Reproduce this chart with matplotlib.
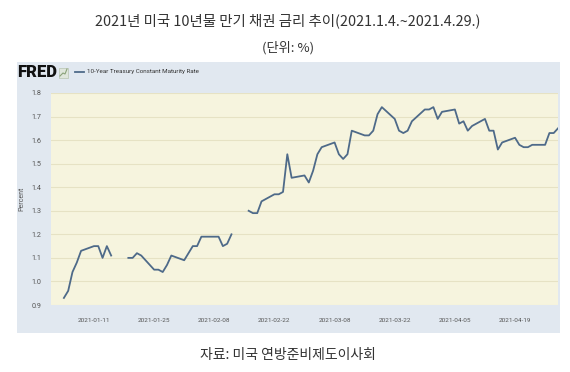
import numpy as np
import pandas as pd
import matplotlib
matplotlib.use('Agg')
import matplotlib.pyplot as plt
from matplotlib.patches import Rectangle
from matplotlib.lines import Line2D

# data (NaN = market holiday, line breaks there)
dates = ['2021-01-04', '2021-01-05', '2021-01-06', '2021-01-07', '2021-01-08',
         '2021-01-11', '2021-01-12', '2021-01-13', '2021-01-14', '2021-01-15',
         '2021-01-18', '2021-01-19', '2021-01-20', '2021-01-21', '2021-01-22',
         '2021-01-25', '2021-01-26', '2021-01-27', '2021-01-28', '2021-01-29',
         '2021-02-01', '2021-02-02', '2021-02-03', '2021-02-04', '2021-02-05',
         '2021-02-08', '2021-02-09', '2021-02-10', '2021-02-11', '2021-02-12',
         '2021-02-15', '2021-02-16', '2021-02-17', '2021-02-18', '2021-02-19',
         '2021-02-22', '2021-02-23', '2021-02-24', '2021-02-25', '2021-02-26',
         '2021-03-01', '2021-03-02', '2021-03-03', '2021-03-04', '2021-03-05',
         '2021-03-08', '2021-03-09', '2021-03-10', '2021-03-11', '2021-03-12',
         '2021-03-15', '2021-03-16', '2021-03-17', '2021-03-18', '2021-03-19',
         '2021-03-22', '2021-03-23', '2021-03-24', '2021-03-25', '2021-03-26',
         '2021-03-29', '2021-03-30', '2021-03-31', '2021-04-01', '2021-04-02',
         '2021-04-05', '2021-04-06', '2021-04-07', '2021-04-08', '2021-04-09',
         '2021-04-12', '2021-04-13', '2021-04-14', '2021-04-15', '2021-04-16',
         '2021-04-19', '2021-04-20', '2021-04-21', '2021-04-22', '2021-04-23',
         '2021-04-26', '2021-04-27', '2021-04-28', '2021-04-29']
rates = [0.93, 0.96, 1.04, 1.08, 1.13,
         1.15, 1.15, 1.10, 1.15, 1.11,
         np.nan, 1.10, 1.10, 1.12, 1.11,
         1.05, 1.05, 1.04, 1.07, 1.11,
         1.09, 1.12, 1.15, 1.15, 1.19,
         1.19, 1.19, 1.15, 1.16, 1.20,
         np.nan, 1.30, 1.29, 1.29, 1.34,
         1.37, 1.37, 1.38, 1.54, 1.44,
         1.45, 1.42, 1.47, 1.54, 1.57,
         1.59, 1.54, 1.52, 1.54, 1.64,
         1.62, 1.62, 1.64, 1.71, 1.74,
         1.69, 1.64, 1.63, 1.64, 1.68,
         1.73, 1.73, 1.74, 1.69, 1.72,
         1.73, 1.67, 1.68, 1.64, 1.66,
         1.69, 1.64, 1.64, 1.56, 1.59,
         1.61, 1.58, 1.57, 1.57, 1.58,
         1.58, 1.63, 1.63, 1.65]
tick_dates = ['2021-01-11', '2021-01-25', '2021-02-08', '2021-02-22',
              '2021-03-08', '2021-03-22', '2021-04-05', '2021-04-19']
y_ticks = [0.9, 1.0, 1.1, 1.2, 1.3, 1.4, 1.5, 1.6, 1.7, 1.8]

title = '2021년 미국 10년물 만기 채권 금리 추이(2021.1.4.~2021.4.29.)'
unit = '(단위: %)'
source = '자료: 미국 연방준비제도이사회'
series_name = '10-Year Treasury Constant Maturity Rate'

W, H = 570, 372
kr = ['Noto Sans CJK KR', 'DejaVu Sans']
small = ['Liberation Sans Narrow', 'Roboto', 'DejaVu Sans']

fig = plt.figure(figsize=(W / 100, H / 100), dpi=100)
fig.patch.set_facecolor('white')


def fx(px):
    return px / W


def fy(py):
    return 1 - py / H


# FRED panel background, its own axes behind the chart
bg = fig.add_axes([fx(17), fy(333), fx(543), 271 / H], zorder=-1)
bg.set_facecolor('#e1e8f0')
bg.set_xticks([])
bg.set_yticks([])
for s in bg.spines.values():
    s.set_visible(False)

ax = fig.add_axes([fx(51), fy(305), fx(507), 212 / H], zorder=1)
ax.set_facecolor('#f6f4de')
x = pd.to_datetime(dates)
ax.plot(x, rates, color='#4e6a89', lw=1.3)
ax.set_xlim(pd.Timestamp('2021-01-01'), pd.Timestamp('2021-04-29'))
ax.set_ylim(0.9, 1.8)
ax.set_yticks(y_ticks)
ax.set_yticklabels(['%.1f' % v for v in y_ticks])
ax.set_xticks(pd.to_datetime(tick_dates))
ax.set_xticklabels(tick_dates)
ax.grid(axis='y', color='#e6e2c4', lw=0.8)
ax.set_axisbelow(True)
for s in ax.spines.values():
    s.set_visible(False)
ax.tick_params(axis='both', length=0, colors='#555555')
ax.tick_params(axis='x', labelsize=4.6, pad=9)
ax.tick_params(axis='y', labelsize=5.2, pad=7)
for t in ax.get_xticklabels() + ax.get_yticklabels():
    t.set_family(small)
ax.set_ylabel('Percent', fontsize=5, color='#555555', labelpad=4, family=small)

# header: FRED logo and legend
fig.text(fx(17), fy(72), 'FRED', fontsize=12, fontweight='heavy', color='#111111',
         va='center', ha='left', family=small, zorder=3)
fig.patches.append(Rectangle((fx(59), fy(78)), fx(9), 10 / H, transform=fig.transFigure,
                             facecolor='#dfe6dc', edgecolor='#b8c4b0', lw=0.5, zorder=3))
fig.lines.append(Line2D([fx(60), fx(63), fx(65), fx(67)], [fy(76), fy(73), fy(74), fy(69)],
                        transform=fig.transFigure, color='#8aa27a', lw=0.8, zorder=4))
fig.lines.append(Line2D([fx(75), fx(84)], [fy(72), fy(72)], transform=fig.transFigure,
                        color='#4e6a89', lw=1.3, zorder=3))
fig.text(fx(87), fy(72), series_name, fontsize=4.5, color='#333333', va='center',
         ha='left', family=small, zorder=3)

# titles and source
fig.text(fx(288), fy(21), title, fontsize=10.4, color='#333333', ha='center',
         va='center', family=kr)
fig.text(fx(288), fy(48), unit, fontsize=9.5, color='#333333', ha='center',
         va='center', family=kr)
fig.text(fx(288), fy(355), source, fontsize=10, color='#333333', ha='center',
         va='center', family=kr)

fig.savefig('out.png', dpi=100)
